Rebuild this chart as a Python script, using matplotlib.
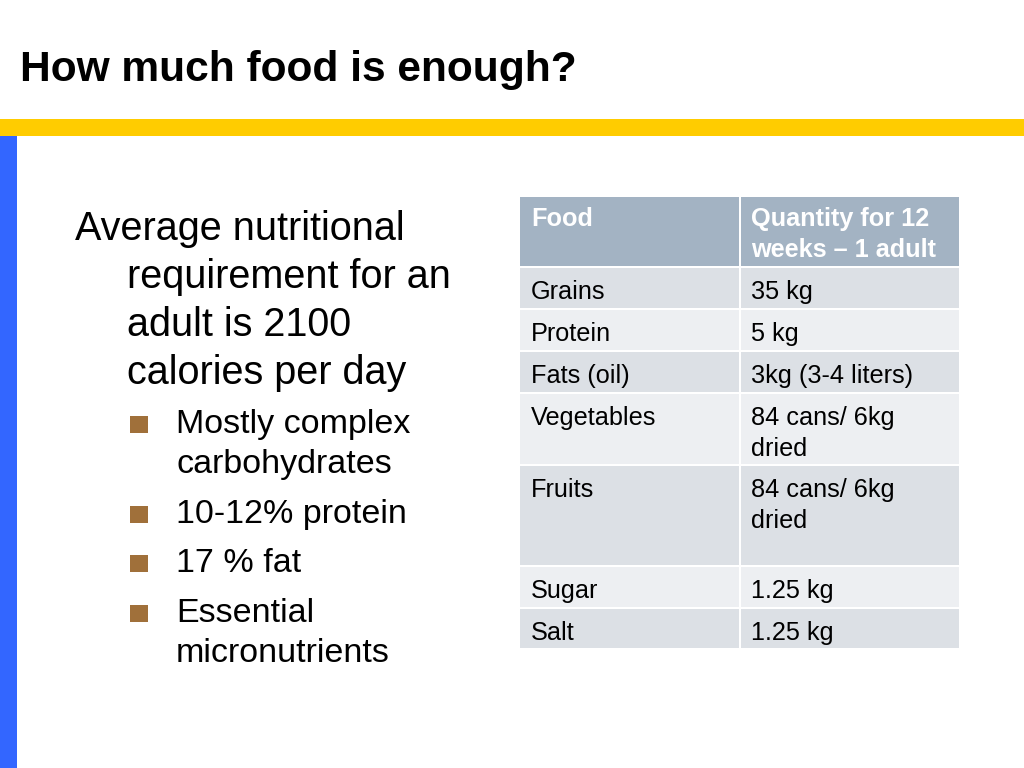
import matplotlib.pyplot as plt
from matplotlib.patches import Rectangle

plt.rcParams["font.family"] = ["Liberation Sans", "DejaVu Sans"]

title = "How much food is enough?"
intro_lines = ["Average nutritional", "requirement for an", "adult is 2100", "calories per day"]
bullets = [
    ["Mostly complex", "carbohydrates"],
    ["10-12% protein"],
    ["17 % fat"],
    ["Essential", "micronutrients"],
]
header = ["Food", "Quantity for 12\nweeks \u2013 1 adult"]
foods = ["Grains", "Protein", "Fats (oil)", "Vegetables", "Fruits", "Sugar", "Salt"]
quantities = ["35 kg", "5 kg", "3kg (3-4 liters)", "84 cans/ 6kg\ndried",
              "84 cans/ 6kg\ndried", "1.25 kg", "1.25 kg"]

# layout (pixels)
W, H = 1024, 768
COL_X = [520, 740, 959]
HEADER_H = 69
ROW_H = [42, 42, 42, 72, 101, 42, 41]
TABLE_TOP = 197
GAP = 2

COR_AMARELO = "#FFCC00"
COR_AZUL = "#3366FF"
COR_BULLET = "#A0703A"
COR_HEADER = "#A3B3C3"
COR_ESCURA = "#DCE0E5"
COR_CLARA = "#EDEFF2"

fig = plt.figure(figsize=(W / 100, H / 100), dpi=100)
ax = fig.add_axes([0, 0, 1, 1])
ax.set_xlim(0, W)
ax.set_ylim(H, 0)
ax.axis("off")

ax.add_patch(Rectangle((0, 119), W, 17, color=COR_AMARELO, lw=0))
ax.add_patch(Rectangle((0, 136), 17, H - 136, color=COR_AZUL, lw=0))

ax.text(20, 70, title, fontsize=30.6, fontweight="bold", va="center", ha="left", color="black")

# texto principal
y = 229
for i, line in enumerate(intro_lines):
    ax.text(75 if i == 0 else 127, y, line, fontsize=28.5, va="center", ha="left")
    y += 48

y = 424
for item in bullets:
    ax.add_patch(Rectangle((130, y - 8), 18, 17, color=COR_BULLET, lw=0))
    for line in item:
        ax.text(176, y + 1, line, fontsize=24.5, va="center", ha="left")
        y += 40
    y += 9.5

# tabela
def celula(x0, x1, y0, h, cor):
    ax.add_patch(Rectangle((x0, y0), x1 - x0, h, color=cor, lw=0))

for c in range(2):
    celula(COL_X[c] + (GAP / 2 if c else 0), COL_X[c + 1] - (0 if c else GAP / 2), TABLE_TOP, HEADER_H, COR_HEADER)
    ax.text(COL_X[c] + 11, TABLE_TOP + 10, header[c], fontsize=18.2, fontweight="bold",
            color="white", va="top", ha="left", linespacing=1.38)

y0 = TABLE_TOP + HEADER_H + GAP
for r, (food, qtd) in enumerate(zip(foods, quantities)):
    cor = COR_ESCURA if r % 2 == 0 else COR_CLARA
    h = ROW_H[r] - GAP
    celula(COL_X[0], COL_X[1] - GAP / 2, y0, h, cor)
    celula(COL_X[1] + GAP / 2, COL_X[2], y0, h, cor)
    ax.text(COL_X[0] + 11, y0 + 12, food, fontsize=18.2, va="top", ha="left", color="black")
    ax.text(COL_X[1] + 11, y0 + 12, qtd, fontsize=18.2, va="top", ha="left", color="black",
            linespacing=1.38)
    y0 += ROW_H[r]

fig.savefig("out.png", dpi=100)
